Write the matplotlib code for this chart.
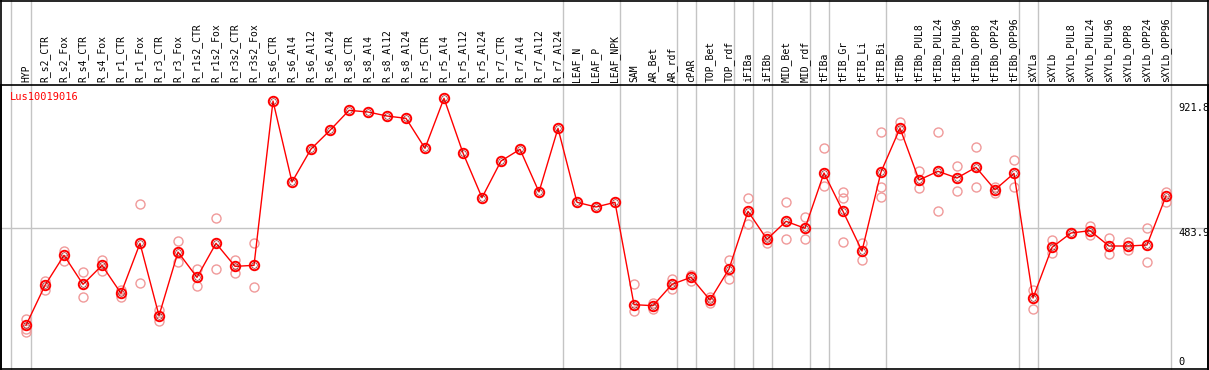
import matplotlib
matplotlib.use("Agg")
import matplotlib.pyplot as plt
from matplotlib.transforms import blended_transform_factory
from matplotlib.lines import Line2D

plt.rcParams['font.family'] = ['DejaVu Sans Mono']

title = "Lus10019016"
samples = ["HYP", "R_s2_CTR", "R_s2_Fox", "R_s4_CTR", "R_s4_Fox", "R_r1_CTR", "R_r1_Fox",
           "R_r3_CTR", "R_r3_Fox", "R_r1s2_CTR", "R_r1s2_Fox", "R_r3s2_CTR", "R_r3s2_Fox",
           "R_s6_CTR", "R_s6_Al4", "R_s6_Al12", "R_s6_Al24", "R_s8_CTR", "R_s8_Al4",
           "R_s8_Al12", "R_s8_Al24", "R_r5_CTR", "R_r5_Al4", "R_r5_Al12", "R_r5_Al24",
           "R_r7_CTR", "R_r7_Al4", "R_r7_Al12", "R_r7_Al24", "LEAF_N", "LEAF_P", "LEAF_NPK",
           "SAM", "AR_Bet", "AR_rdf", "cPAR", "TOP_Bet", "TOP_rdf", "iFIBa", "iFIBb",
           "MID_Bet", "MID_rdf", "tFIBa", "tFIB_Gr", "tFIB_Li", "tFIB_Bi", "tFIBb",
           "tFIBb_PUL8", "tFIBb_PUL24", "tFIBb_PUL96", "tFIBb_OPP8", "tFIBb_OPP24",
           "tFIBb_OPP96", "sXYLa", "sXYLb", "sXYLb_PUL8", "sXYLb_PUL24", "sXYLb_PUL96",
           "sXYLb_OPP8", "sXYLb_OPP24", "sXYLb_OPP96"]

means = [142.5, 282.6, 387.7, 286, 352.6, 254.5, 429.7, 176.3, 399.3, 310.5, 429.7, 349,
         352.6, 928, 644.5, 760, 825.5, 895.5, 889.7, 875.6, 867.5, 762.5, 937.6, 746,
         589.6, 718, 759, 609.5, 832.5, 573.3, 557, 573.3, 214.8, 211.3, 286, 310.7, 231,
         339.8, 541.8, 443.7, 506.8, 482.3, 676, 541.8, 402.8, 679.5, 833, 651.5, 681.9,
         658.5, 695.9, 617.5, 674.8, 238, 415.6, 465.8, 474, 420.3, 420.3, 423.8, 595.4]

replicates = [[163.6, 128.3, 119], [298.8, 266], [403.9, 367.8], [328, 240.6], [371, 334],
              [266, 243], [566, 289.5], [196, 158.8], [436.6, 363], [339.7, 281.3],
              [517, 338.6], [371, 327], [429.7, 275.6],
              [], [], [], [], [], [], [], [], [], [], [], [], [], [], [], [], [], [], [],
              [286, 193.8], [221.8, 198.6], [304.7, 269.7], [319.8, 298.8], [242.7, 221.7],
              [371, 303.7], [587.4, 496.3], [456.4, 432], [573.3, 443.7], [520.8, 443.7],
              [762.5, 629.4], [609.5, 587.4, 433], [429.7, 371], [818.5, 626, 591],
              [854.6, 809], [683, 622], [818.5, 543], [699.5, 611.8], [766, 626], [628, 605],
              [721.5, 626], [266, 198.6], [441.3, 394.7], [465.8], [490, 458.8], [447, 392],
              [435.4, 406.3], [482, 365.3], [609.5, 574.4]]

group_separators = [-0.8, 0.25, 28.25, 31.25, 34.25, 35.25, 37.25, 38.25, 39.25, 41.25,
                    42.25, 45.25, 52.25, 53.25, 60.25]
ytick_values = [921.8, 483.9, 0]
ytick_labels = ["921.8", "483.9", "0"]

W, H = 1209, 370
fig = plt.figure(figsize=(W / 100, H / 100), dpi=100)
ax_left, ax_right, ax_top, ax_bot = 1, 1208, 85, 369
ax = fig.add_axes([ax_left / W, (H - ax_bot) / H, (ax_right - ax_left) / W, (ax_bot - ax_top) / H])

px_per_x = 19.0
x0_px = 26.0
ax.set_xlim((ax_left - x0_px) / px_per_x, (ax_right - x0_px) / px_per_x)
px_per_y = 0.2855
y0_px = 366.0
ax.set_ylim((y0_px - ax_bot) / px_per_y, (y0_px - ax_top) / px_per_y)
ax.set_xticks([])
ax.set_yticks([])
for s in ax.spines.values():
    s.set_color("black")
    s.set_linewidth(1.2)

grid_c = "#c4c4c4"
ext = (ax_bot - 0) / (ax_bot - ax_top)
for g in group_separators:
    ax.axvline(g, ymin=0, ymax=ext, color=grid_c, lw=1.0, clip_on=False, zorder=0.5)
ax.axhline(ytick_values[1], color=grid_c, lw=1.0, zorder=0.5)

xs = list(range(len(samples)))
pale = "#f09a9a"
for i, reps in enumerate(replicates):
    if reps:
        ax.plot([i] * len(reps), reps, linestyle="none", marker="o", ms=6.5, mfc="none",
                mec=pale, mew=1.0, zorder=2)

ax.plot(xs, means, color="#ff0000", lw=1.0, zorder=3)
ax.plot(xs, means, linestyle="none", marker="o", ms=6.8, mfc="none", mec="#ff0000",
        mew=1.4, zorder=4)
ax.plot(xs, means, linestyle="none", marker="o", ms=4.0, mfc="none", mec="#700000",
        mew=0.4, zorder=5)

tr = blended_transform_factory(ax.transData, ax.transAxes)
for i, name in enumerate(samples):
    ax.text(i, 1 + 2.5 / (ax_bot - ax_top), name, rotation=90, ha="center", va="bottom",
            fontsize=7, transform=tr, color="black")

trr = blended_transform_factory(fig.transFigure, ax.transData)
for v, lab in zip(ytick_values[:2], ytick_labels[:2]):
    ax.text(1178 / W, v, lab, ha="left", va="top", fontsize=7.5, transform=trr)
fig.text(1178 / W, (H - 362) / H, ytick_labels[2], ha="left", va="center", fontsize=7.5)

fig.text(10 / W, (H - 97.5) / H, title, color="#ff0000", ha="left", va="center", fontsize=7.5)

# outer frame
for (xa, ya, xb, yb) in [(1, 0.5, 1208, 0.5), (1, 0, 1, 369), (1208, 0, 1208, 369)]:
    fig.add_artist(Line2D([xa / W, xb / W], [(H - ya) / H, (H - yb) / H], color="black",
                          lw=1.2, transform=fig.transFigure))

fig.savefig("out.png", dpi=100, facecolor="white")
